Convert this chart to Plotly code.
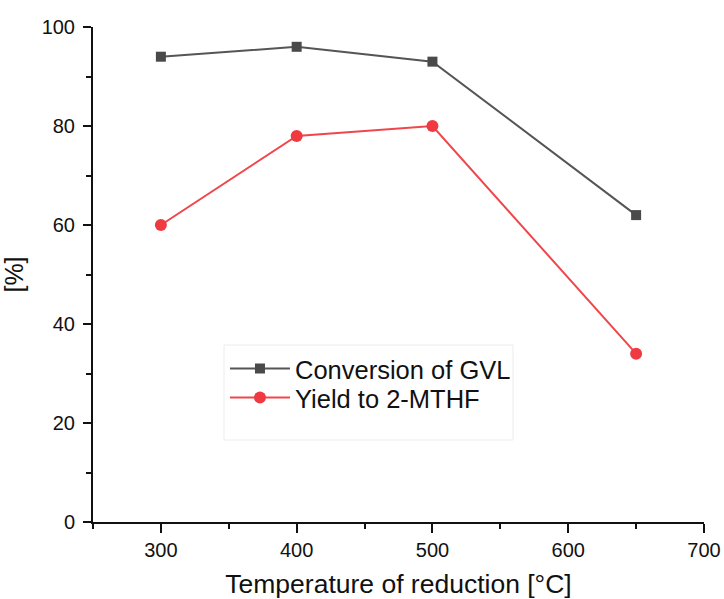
import plotly.graph_objects as go

temps = [300, 400, 500, 650]
conversion_gvl = [94, 96, 93, 62]
yield_mthf = [60, 78, 80, 34]

fig = go.Figure()
fig.add_trace(go.Scatter(
    x=temps, y=conversion_gvl, mode="lines+markers", name="Conversion of GVL",
    line=dict(color="#555555", width=2),
    marker=dict(symbol="square", size=10, color="#4a4a4a"),
    legend="legend",
))
fig.add_trace(go.Scatter(
    x=temps, y=yield_mthf, mode="lines+markers", name="Yield to 2-MTHF",
    line=dict(color="#f0464b", width=2),
    marker=dict(symbol="circle", size=12, color="#ee3a40"),
    legend="legend2",
))

font_family = "Liberation Sans, Arial, sans-serif"
leg_common = dict(
    x=0.216, xanchor="left", yanchor="middle",
    bgcolor="rgba(0,0,0,0)", borderwidth=0,
    font=dict(size=25.5, family=font_family, color="#111111"),
    itemwidth=60,
)
fig.update_layout(
    width=724, height=599,
    margin=dict(l=93, r=20, t=27, b=77, autoexpand=False),
    paper_bgcolor="white", plot_bgcolor="white",
    font=dict(family=font_family, color="#111111"),
    showlegend=True,
    legend=dict(y=(522 - 369) / 495, **leg_common),
    legend2=dict(y=(522 - 398) / 495, **leg_common),
    shapes=[dict(
        type="rect", xref="paper", yref="paper",
        x0=(224 - 93) / 611, x1=(513 - 93) / 611,
        y0=(522 - 440) / 495, y1=(522 - 345) / 495,
        line=dict(color="#ececec", width=1), fillcolor="white", layer="below",
    )],
)
fig.update_xaxes(
    range=[250, 700], tickvals=[300, 400, 500, 600, 700],
    automargin=False,
    showline=True, linecolor="#111111", linewidth=2, mirror=False,
    ticks="outside", ticklen=9, tickwidth=2, tickcolor="#111111",
    minor=dict(ticks="outside", ticklen=5, tickwidth=2, tickcolor="#111111", dtick=50),
    showgrid=False, zeroline=False,
    tickfont=dict(size=20),
    title=dict(text="Temperature of reduction [°C]", font=dict(size=26.5), standoff=14),
)
fig.update_yaxes(
    range=[0, 100], tickvals=[0, 20, 40, 60, 80, 100],
    automargin=False,
    showline=True, linecolor="#111111", linewidth=2, mirror=False,
    ticks="outside", ticklen=8, tickwidth=2, tickcolor="#111111",
    ticklabelstandoff=4,
    minor=dict(ticks="outside", ticklen=5, tickwidth=2, tickcolor="#111111", dtick=10),
    showgrid=False, zeroline=False,
    tickfont=dict(size=20),
    title=dict(text="[%]", font=dict(size=25), standoff=14),
)

fig.write_html("out.html")
